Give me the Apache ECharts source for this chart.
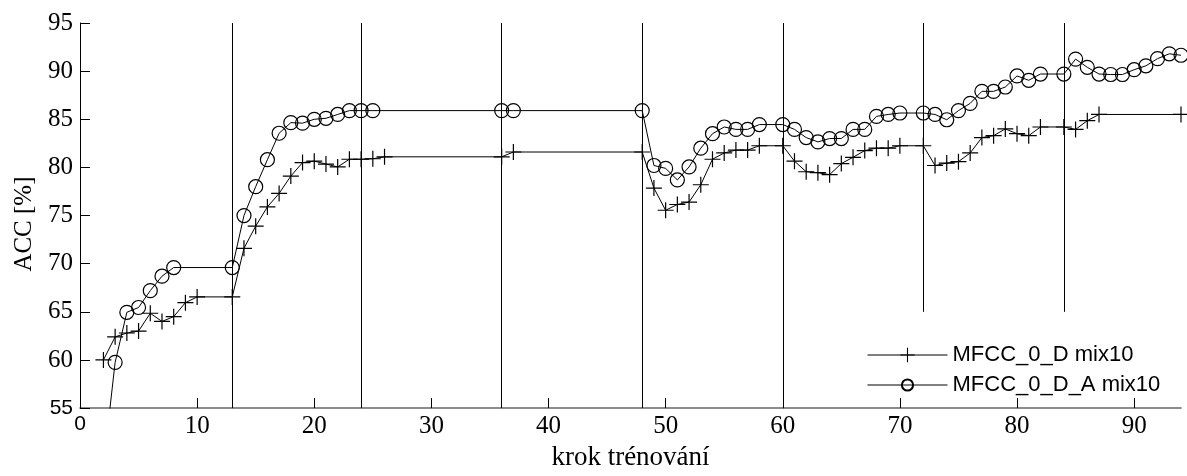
<!DOCTYPE html>
<html>
<head>
<meta charset="utf-8">
<script src="https://cdn.jsdelivr.net/npm/echarts@6/dist/echarts.min.js"></script>
<style>html,body{margin:0;padding:0;background:#fff}#c{width:1187px;height:476px}</style>
</head>
<body>
<div id="c"></div>
<script>
// ---- data ----
const seriesNames = ['MFCC_0_D mix10', 'MFCC_0_D_A mix10'];
const steps1 = [2,3,4,5,6,7,8,9,10,13,14,15,16,17,18,19,20,21,22,23,24,25,26,36,37,48,49,50,51,52,53,54,55,56,57,58,60,61,62,63,64,65,66,67,68,69,70,72,73,74,75,76,77,78,79,80,81,82,84,85,86,87,94];
const acc1 = [60.0,62.4,62.8,63.0,64.85,64.0,64.5,65.95,66.55,66.55,71.6,73.9,75.9,77.3,79.1,80.5,80.65,80.35,80.05,80.85,80.85,80.9,81.1,81.1,81.6,81.6,77.85,75.55,76.15,76.4,78.2,80.85,81.5,81.8,81.8,82.25,82.25,80.65,79.55,79.45,79.25,80.4,81.05,81.75,82.0,82.0,82.25,82.25,80.2,80.45,80.6,81.5,83.1,83.3,84.0,83.5,83.3,84.2,84.2,83.95,84.85,85.5,85.5];
const steps2 = [2,3,4,5,6,7,8,13,14,15,16,17,18,19,20,21,22,23,24,25,36,37,48,49,50,51,52,53,54,55,56,57,58,60,61,62,63,64,65,66,67,68,69,70,72,73,74,75,76,77,78,79,80,81,82,84,85,86,87,88,89,90,91,92,93,94];
const acc2 = [49.0,59.75,64.95,65.45,67.2,68.7,69.6,69.6,75.0,78.0,80.8,83.55,84.65,84.6,85.0,85.1,85.5,85.9,85.9,85.9,85.9,85.9,85.9,80.2,79.9,78.7,80.05,82.0,83.5,84.2,83.95,83.95,84.45,84.45,83.95,83.1,82.65,83.0,83.0,83.95,83.95,85.3,85.5,85.65,85.65,85.5,84.95,85.9,86.65,87.9,87.9,88.35,89.5,89.05,89.7,89.7,91.25,90.4,89.7,89.65,89.65,90.15,90.55,91.3,91.8,91.65];
const boundX = [13,24,36,48,60,72,84];
const boundLow = [55,55,55,55,55,65,65];
const boundHigh = 95;
const xTicks = [0,10,20,30,40,50,60,70,80,90];
const yTicks = [55,60,65,70,75,80,85,90,95];
const xName = 'krok trénování';
const yName = 'ACC [%]';

// ---- chart ----
const chart = echarts.init(document.getElementById('c'), null, {renderer: 'canvas'});
const serif = 'Liberation Serif';
const sans = 'Liberation Sans';
const plusPath = 'path://M7.4,0H8.6V7.4H16V8.6H8.6V16H7.4V8.6H0V7.4H7.4Z';
const rich = {
  r: {fontFamily: serif, fontSize: 25, color: '#000'},
  s: {fontFamily: sans, fontSize: 21, color: '#000'}
};
const pairs = (xs, ys) => xs.map((x, i) => [x, ys[i]]);
const markData = boundX.map((x, i) => [{coord: [x, boundLow[i]]}, {coord: [x, boundHigh]}]);
const legendBase = {
  orient: 'vertical', left: 862,
  itemWidth: 80,
  lineStyle: {width: 1, color: '#000'},
  textStyle: {fontFamily: sans, fontSize: 22, color: '#000'}
};

chart.setOption({
  animation: false,
  backgroundColor: '#fff',
  grid: {left: 80, right: 6, top: 23, bottom: 60, containLabel: false},
  legend: [
    Object.assign({}, legendBase, {top: 339, itemHeight: 18, data: [seriesNames[0]]}),
    Object.assign({}, legendBase, {top: 369, itemHeight: 14, data: [seriesNames[1]]})
  ],
  xAxis: {
    type: 'value', min: 0, max: 94, interval: 10,
    name: xName, nameLocation: 'middle', nameGap: 34,
    nameTextStyle: {fontFamily: serif, fontSize: 27, color: '#000'},
    axisLine: {show: true, onZero: false, lineStyle: {color: '#666', width: 1.6}},
    axisTick: {show: true, inside: true, length: 10, customValues: xTicks, lineStyle: {color: '#000', width: 1}},
    axisLabel: {
      customValues: xTicks, margin: 6, color: '#000',
      formatter: v => v === 0 ? '{s|0}' : '{r|' + v + '}', rich: rich
    },
    splitLine: {show: false}
  },
  yAxis: {
    type: 'value', min: 55, max: 95, interval: 5,
    name: yName, nameLocation: 'middle', nameGap: 40, nameRotate: 90,
    nameTextStyle: {fontFamily: serif, fontSize: 25, color: '#000', padding: [0, 17, 0, 0]},
    axisLine: {show: true, onZero: false, lineStyle: {color: '#000', width: 1}},
    axisTick: {show: true, inside: true, length: 10, lineStyle: {color: '#000', width: 1}},
    axisLabel: {
      customValues: yTicks, margin: 7, color: '#000',
      formatter: v => v === 55 ? '{s|55}' : '{r|' + v + '}', rich: rich
    },
    splitLine: {show: false}
  },
  series: [
    {
      name: seriesNames[0], type: 'line', clip: true,
      data: pairs(steps1, acc1),
      symbol: plusPath, symbolSize: 16,
      itemStyle: {color: '#000'},
      lineStyle: {color: '#000', width: 1},
      markLine: {
        silent: true, symbol: ['none', 'none'],
        label: {show: false},
        lineStyle: {color: '#000', width: 1, type: 'solid'},
        emphasis: {disabled: true},
        data: markData
      },
      z: 3
    },
    {
      name: seriesNames[1], type: 'line', clip: true,
      data: pairs(steps2, acc2),
      symbol: 'circle', symbolSize: 14,
      itemStyle: {color: 'rgba(0,0,0,0)', borderColor: '#000', borderWidth: 1.2},
      lineStyle: {color: '#000', width: 1},
      z: 3
    }
  ]
});
</script>
</body>
</html>
